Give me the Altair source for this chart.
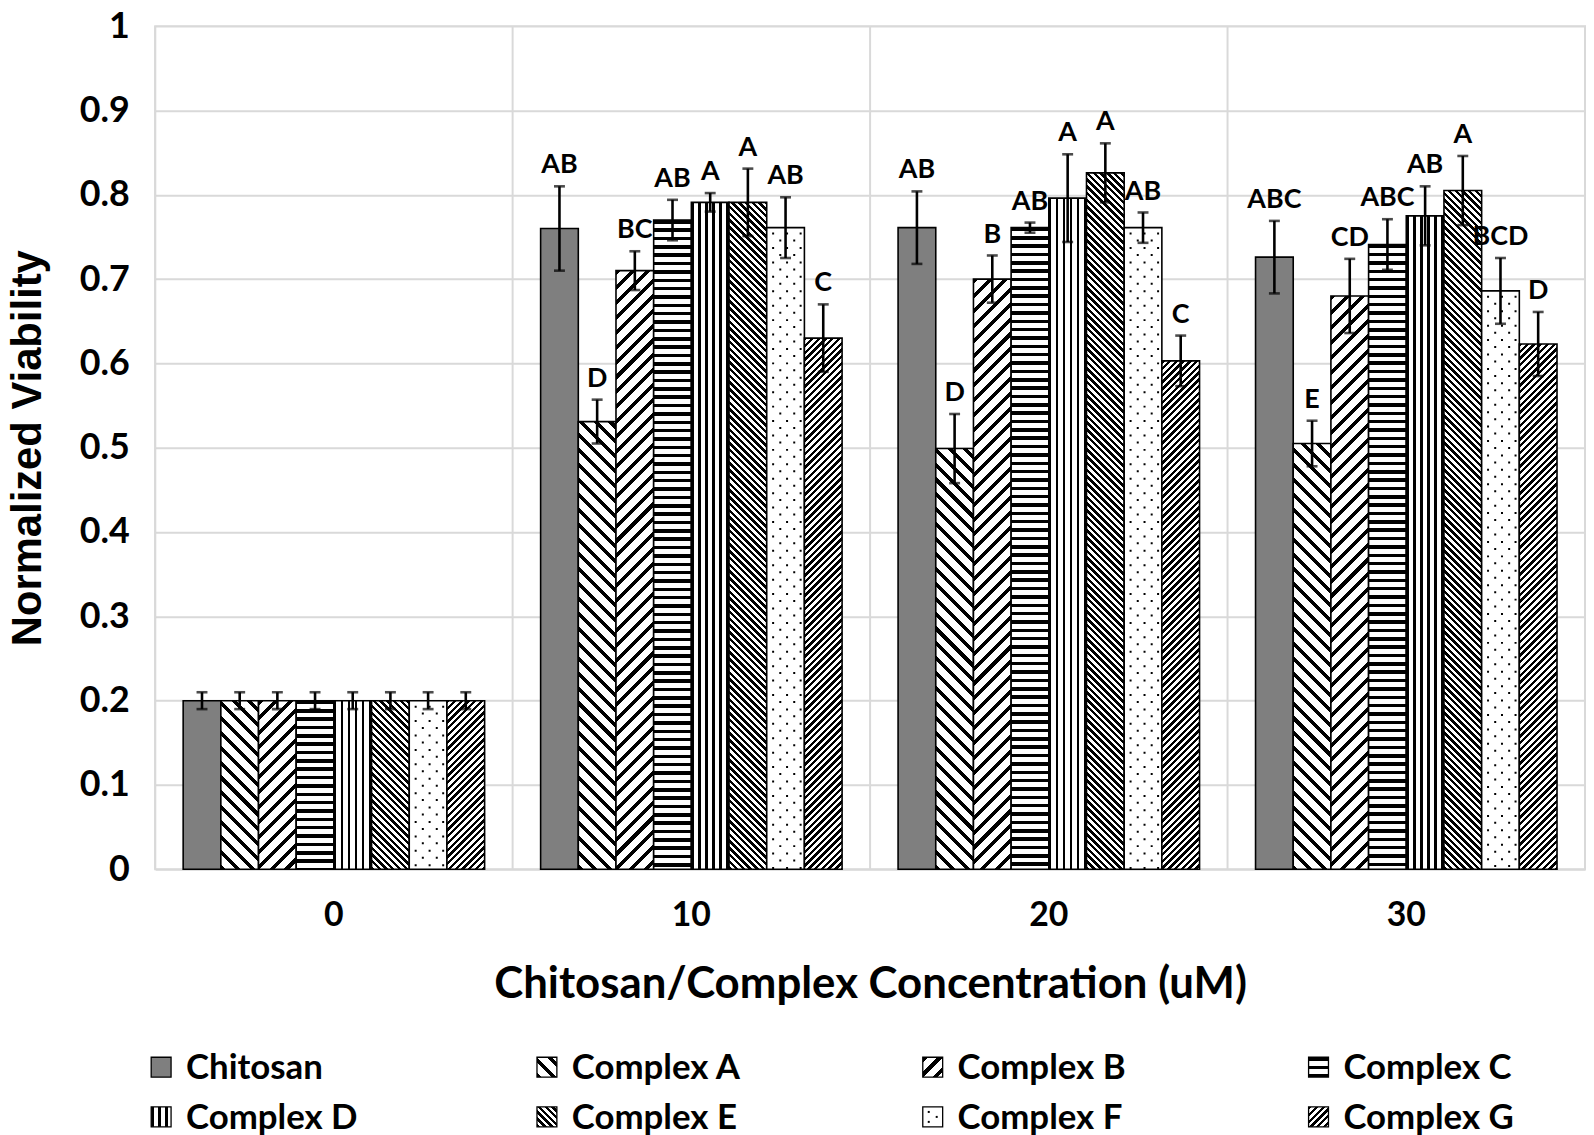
import math
import altair as alt

# ---------------- data ----------------
categories = ["0", "10", "20", "30"]
series = ["Chitosan", "Complex A", "Complex B", "Complex C",
          "Complex D", "Complex E", "Complex F", "Complex G"]

chitosan = [0.200, 0.760, 0.761, 0.726]
complex_a = [0.200, 0.531, 0.499, 0.505]
complex_b = [0.200, 0.710, 0.700, 0.680]
complex_c = [0.200, 0.770, 0.761, 0.741]
complex_d = [0.200, 0.791, 0.796, 0.775]
complex_e = [0.200, 0.791, 0.826, 0.805]
complex_f = [0.200, 0.761, 0.761, 0.686]
complex_g = [0.200, 0.630, 0.603, 0.623]

chitosan_err = [0.010, 0.050, 0.043, 0.043]
complex_a_err = [0.010, 0.026, 0.041, 0.027]
complex_b_err = [0.010, 0.023, 0.028, 0.044]
complex_c_err = [0.010, 0.024, 0.006, 0.030]
complex_d_err = [0.010, 0.011, 0.052, 0.035]
complex_e_err = [0.010, 0.040, 0.035, 0.041]
complex_f_err = [0.010, 0.036, 0.018, 0.039]
complex_g_err = [0.010, 0.040, 0.030, 0.038]

chitosan_lbl = ["", "AB", "AB", "ABC"]
complex_a_lbl = ["", "D", "D", "E"]
complex_b_lbl = ["", "BC", "B", "CD"]
complex_c_lbl = ["", "AB", "AB", "ABC"]
complex_d_lbl = ["", "A", "A", "AB"]
complex_e_lbl = ["", "A", "A", "A"]
complex_f_lbl = ["", "AB", "AB", "BCD"]
complex_g_lbl = ["", "C", "C", "D"]

y_ticks = [i / 10 for i in range(11)]

values = [chitosan, complex_a, complex_b, complex_c,
          complex_d, complex_e, complex_f, complex_g]
errors = [chitosan_err, complex_a_err, complex_b_err, complex_c_err,
          complex_d_err, complex_e_err, complex_f_err, complex_g_err]
letters = [chitosan_lbl, complex_a_lbl, complex_b_lbl, complex_c_lbl,
           complex_d_lbl, complex_e_lbl, complex_f_lbl, complex_g_lbl]

# ---------------- layout / style ----------------
W = 1438
H = 848
GROUP_PAD = 0.743
N_SLOTS = len(series) + 2 * GROUP_PAD
BAR_W = (W / len(categories)) / N_SLOTS
FONT = "Lato"

patterns = {
    "Chitosan": ("solid", "#7f7f7f"),
    "Complex A": ("bs", 10.6, 0.34),
    "Complex B": ("fs", 10.6, 0.34),
    "Complex C": ("h", 8.4, 0.42),
    "Complex D": ("v", 7.0, 0.36),
    "Complex E": ("bs", 4.8, 0.5),
    "Complex F": ("solid", "#ffffff"),
    "Complex G": ("fs", 4.8, 0.5),
}


def make_fill(name, w, h):
    spec = patterns[name]
    if spec[0] == "solid":
        return spec[1]
    kind, period, frac = spec
    h = max(h, 1.0)
    if kind == "h":
        x1, y1, x2, y2, L = 0, 0, 0, 1, h
    elif kind == "v":
        x1, y1, x2, y2, L = 0, 0, 1, 0, w
    elif kind == "bs":
        k = (w + h) / (w * w + h * h)
        x1, y1, x2, y2 = 0, 1, k * w, 1 - k * h
        L = (w + h) / math.sqrt(2)
    else:  # "fs"
        k = (w + h) / (w * w + h * h)
        x1, y1, x2, y2 = 0, 0, k * w, k * h
        L = (w + h) / math.sqrt(2)
    pt = period / L
    stops = []
    t = 0.0
    while t < 1.0:
        b = min(t + frac * pt, 1.0)
        c = min(t + pt, 1.0)
        stops += [{"offset": round(t, 5), "color": "#000000"},
                  {"offset": round(b, 5), "color": "#000000"},
                  {"offset": round(b, 5), "color": "#ffffff"},
                  {"offset": round(c, 5), "color": "#ffffff"}]
        t += pt
    return {"gradient": "linear", "x1": round(x1, 5), "y1": round(y1, 5),
            "x2": round(x2, 5), "y2": round(y2, 5), "stops": stops}


records = []
for si, s in enumerate(series):
    for ci, c in enumerate(categories):
        v = values[si][ci]
        e = errors[si][ci]
        records.append({
            "cat": c, "series": s, "value": v,
            "lo": v - e, "hi": v + e, "lbl": letters[si][ci],
            "pat": make_fill(s, BAR_W, v * H),
        })

bars_data = alt.Data(values=records)
grid_data = alt.Data(values=[{"cat": c} for c in categories])

x_scale = alt.Scale(type="band", paddingInner=0, paddingOuter=0)
xo_scale = alt.Scale(type="band", paddingInner=0, paddingOuter=GROUP_PAD)
y_scale = alt.Scale(domain=[0, 1], nice=False)

x_axis = alt.Axis(title="Chitosan/Complex Concentration (uM)", labelAngle=0,
                  labelPadding=30, titlePadding=30, grid=False,
                  labelFontSize=34, titleFontSize=44)
y_axis = alt.Axis(values=y_ticks, format="~g", grid=True, gridColor="#d9d9d9",
                  gridWidth=2, labelPadding=26, titlePadding=30,
                  labelFontSize=36,
                  titleFont="Liberation Sans", titleFontSize=42)

X = alt.X("cat:N", sort=categories, scale=x_scale, axis=x_axis)
XO = alt.XOffset("series:N", sort=series, scale=xo_scale)
Y_TITLE = "Normalized Viability"
Yv = alt.Y("value:Q", scale=y_scale, axis=y_axis, title=Y_TITLE)

vgrid = alt.Chart(grid_data).mark_rule(color="#d9d9d9", strokeWidth=2).encode(
    x=alt.X("cat:N", sort=categories, scale=x_scale, axis=x_axis, bandPosition=0),
    y=alt.value(0), y2=alt.value(H))

bars = alt.Chart(bars_data).mark_bar(stroke="#000000", strokeWidth=1.6).encode(
    x=X, xOffset=XO, y=Yv, fill=alt.Fill("pat:N", scale=None))

# dotted fill of Complex F: columns of short dashes inside the bar
f_index = series.index("Complex F")
dot_layers = []
for i, frac in enumerate([0.17, 0.36, 0.54, 0.73, 0.9]):
    bp = (GROUP_PAD + f_index + frac) / N_SLOTS
    dot_layers.append(
        alt.Chart(bars_data).transform_filter(alt.datum.series == "Complex F")
        .mark_rule(color="#000000", strokeWidth=2, strokeDash=[2, 12.5],
                   strokeDashOffset=(-5 if i % 2 == 0 else -12))
        .encode(x=alt.X("cat:N", sort=categories, scale=x_scale, axis=x_axis, bandPosition=bp),
                y=Yv, y2=alt.datum(0)))

err_rule = alt.Chart(bars_data).mark_rule(color="#000000", strokeWidth=2.6).encode(
    x=X, xOffset=XO,
    y=alt.Y("lo:Q", scale=y_scale, axis=y_axis, title=Y_TITLE), y2="hi:Q")
cap_lo = alt.Chart(bars_data).mark_tick(color="#000000", size=11, thickness=2.6,
                                         orient="horizontal").encode(
    x=X, xOffset=XO, y=alt.Y("lo:Q", scale=y_scale, axis=y_axis, title=Y_TITLE))
cap_hi = alt.Chart(bars_data).mark_tick(color="#000000", size=11, thickness=2.6,
                                         orient="horizontal").encode(
    x=X, xOffset=XO, y=alt.Y("hi:Q", scale=y_scale, axis=y_axis, title=Y_TITLE))

labels = alt.Chart(bars_data).transform_filter(alt.datum.lbl != "").mark_text(
    font=FONT, fontWeight="bold", fontSize=27, color="#000000",
    baseline="alphabetic", dy=-13).encode(
    x=X, xOffset=XO, y=alt.Y("hi:Q", scale=y_scale, axis=y_axis, title=Y_TITLE),
    text="lbl:N")

main = alt.layer(vgrid, bars, *dot_layers, err_rule, cap_lo, cap_hi, labels).properties(
    width=W, height=H,
    view=alt.ViewBackground(stroke="#d9d9d9", strokeWidth=2))

# ---------------- legend ----------------
LEG_STEP = 388
legend_records = []
for i, s in enumerate(series):
    legend_records.append({"series": s, "col": i % 4, "row": i // 4,
                           "pat": make_fill(s, 20, 20)})
legend_data = alt.Data(values=legend_records)

lx = alt.X("col:O", axis=None, bandPosition=0,
           scale=alt.Scale(type="band", paddingInner=0, paddingOuter=0,
                           range=[0, LEG_STEP * 4]))
ly = alt.Y("row:O", axis=None,
           scale=alt.Scale(type="band", paddingInner=0, paddingOuter=0, range=[0, 100]))

leg_sym = alt.Chart(legend_data).mark_square(size=400, stroke="#000000", strokeWidth=1.3,
                                             opacity=1, xOffset=6).encode(
    x=lx, y=ly, fill=alt.Fill("pat:N", scale=None))
leg_dots = [
    alt.Chart(legend_data).transform_filter(alt.datum.series == "Complex F")
    .mark_square(size=4, color="#000000", opacity=1, xOffset=6 + dx, yOffset=dy)
    .encode(x=lx, y=ly)
    for dx, dy in [(-4, -5), (4, 0), (-4, 5)]
]
leg_txt = alt.Chart(legend_data).mark_text(font=FONT, fontWeight="bold", fontSize=35,
                                           color="#000000", align="left",
                                           baseline="middle", xOffset=31, dy=1).encode(
    x=lx, y=ly, text="series:N")
legend = alt.layer(leg_sym, *leg_dots, leg_txt).properties(width=W, height=60)

chart = alt.vconcat(main, legend, spacing=34).properties(
    padding={"top": -4, "left": -3, "right": 0, "bottom": 0}).configure_view(
    stroke="transparent").configure_axis(
    labelFont=FONT, labelFontWeight="bold", labelColor="#000000",
    titleFont=FONT, titleFontWeight="bold", titleColor="#000000",
    domain=False, ticks=False)

chart.save("out.html", embed_options={"renderer": "svg", "actions": False})
